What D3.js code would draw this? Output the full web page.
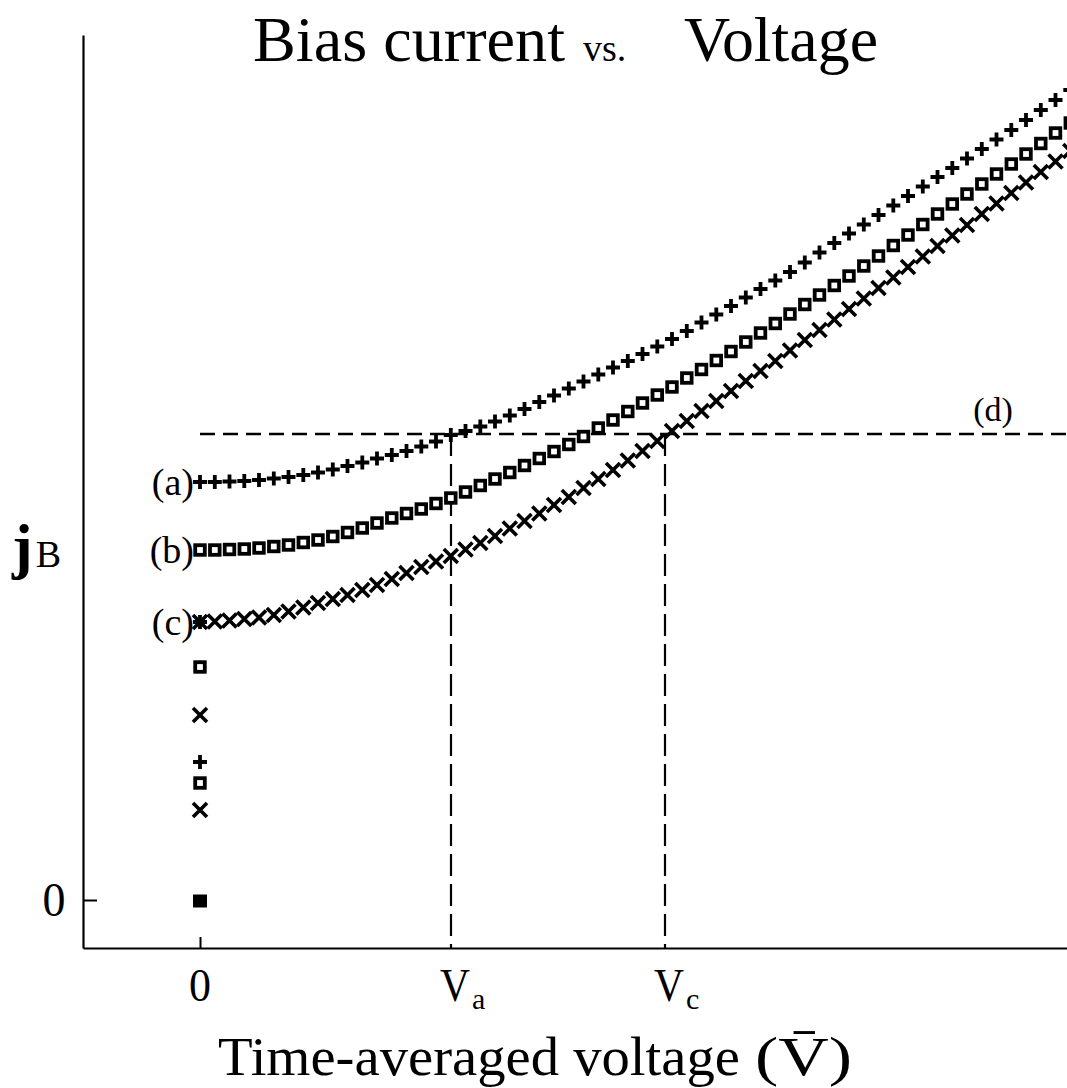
<!DOCTYPE html>
<html><head><meta charset="utf-8">
<script src="https://cdn.jsdelivr.net/npm/d3@7"></script>
<style>
body{margin:0;background:#fff}
svg{display:block;background:#fff}
text{font-family:"Liberation Serif","Times New Roman",serif;fill:#000}
</style>
</head><body>
<svg id="chart" width="1067" height="1088"></svg>
<script>
// ---- data ----
const voltages = [0,0.148,0.295,0.443,0.59,0.738,0.885,1.033,1.18,1.328,1.475,1.623,1.77,1.918,2.065,2.213,2.36,2.508,2.655,2.803,2.95,3.098,3.245,3.393,3.54,3.688,3.835,3.983,4.13,4.278,4.425,4.573,4.72,4.868,5.015,5.163,5.31,5.458,5.605,5.753,5.9,6.048,6.195,6.343,6.49,6.638,6.785,6.933,7.08,7.228,7.375,7.523,7.67,7.818,7.965,8.113,8.26,8.408,8.555,8.703];
const currentA = [4.18,4.18,4.185,4.19,4.20,4.215,4.23,4.25,4.275,4.305,4.34,4.375,4.415,4.45,4.49,4.535,4.585,4.65,4.69,4.735,4.785,4.845,4.91,4.98,5.045,5.115,5.185,5.255,5.325,5.39,5.46,5.535,5.61,5.69,5.775,5.855,5.94,6.025,6.11,6.195,6.28,6.375,6.475,6.57,6.665,6.755,6.85,6.945,7.04,7.135,7.23,7.32,7.415,7.51,7.605,7.70,7.80,7.90,8.00,8.10];
const currentB = [3.50,3.50,3.505,3.51,3.52,3.535,3.55,3.575,3.60,3.635,3.675,3.72,3.77,3.82,3.865,3.91,3.965,4.02,4.08,4.145,4.21,4.275,4.345,4.415,4.485,4.555,4.635,4.72,4.80,4.885,4.97,5.05,5.13,5.22,5.305,5.395,5.485,5.58,5.67,5.765,5.86,5.955,6.05,6.145,6.24,6.34,6.44,6.545,6.65,6.755,6.86,6.96,7.06,7.16,7.26,7.36,7.46,7.565,7.67,7.77];
const currentC = [2.78,2.785,2.795,2.81,2.825,2.85,2.885,2.925,2.97,3.01,3.05,3.10,3.15,3.21,3.27,3.33,3.385,3.44,3.505,3.57,3.64,3.715,3.79,3.865,3.95,4.03,4.12,4.21,4.30,4.395,4.49,4.59,4.69,4.79,4.89,4.99,5.09,5.19,5.29,5.39,5.495,5.60,5.70,5.805,5.91,6.015,6.12,6.225,6.33,6.435,6.54,6.645,6.75,6.86,6.965,7.07,7.175,7.28,7.385,7.49];
// points at zero voltage
const zeroPlus = [2.78, 1.38];
const zeroSquare = [2.33, 1.17];
const zeroCross = [1.85, 0.90];
const zeroFilled = [0];
const seriesLabels = ["(a)", "(b)", "(c)"];
const levelD = 4.66, levelDLabel = "(d)";
const Va = 2.51, Vc = 4.65;
const xTickValues = [0, Va, Vc];
const xTickMain = ["0", "V", "V"];
const xTickSub = ["", "a", "c"];
const yTickValues = [0];
const yTickLabels = ["0"];

// ---- drawing ----
const svg = d3.select("#chart");
const x = d3.scaleLinear().domain([-1.17, 8.67]).range([83, 1067]);
const y = d3.scaleLinear().domain([-0.48, 8.65]).range([948, 35]);

// title
svg.append("text").attr("x",253).attr("y",61).attr("font-size",64)
  .attr("textLength",312).attr("lengthAdjust","spacingAndGlyphs").text("Bias current");
svg.append("text").attr("x",583).attr("y",61).attr("font-size",38).text("vs.");
svg.append("text").attr("x",684).attr("y",61).attr("font-size",64)
  .attr("textLength",194).attr("lengthAdjust","spacingAndGlyphs").text("Voltage");

// axes
const xAxis = d3.axisBottom(x).tickValues([0]).tickSizeInner(-11).tickSizeOuter(0).tickFormat("");
const gx = svg.append("g").attr("transform",`translate(0,${y(-0.48)})`).call(xAxis);
const yAxis = d3.axisLeft(y).tickValues(yTickValues).tickSizeInner(-14).tickSizeOuter(0).tickFormat("");
const gy = svg.append("g").attr("transform",`translate(${x(-1.17)},0)`).call(yAxis);
[gx, gy].forEach(g => {
  g.selectAll("path.domain").attr("stroke","#000").attr("stroke-width",2.2);
  g.selectAll(".tick line").attr("stroke","#000").attr("stroke-width",2);
});

// tick labels
xTickValues.forEach((v,i) => {
  if (xTickSub[i]) {
    svg.append("text").attr("x", x(v) - 11).attr("y",1001).attr("font-size",47)
      .attr("textLength",30).attr("lengthAdjust","spacingAndGlyphs").text(xTickMain[i]);
    svg.append("text").attr("x", x(v) + 21).attr("y",1009).attr("font-size",30)
      .text(xTickSub[i]);
  } else {
    svg.append("text").attr("x", x(v)).attr("y",1001).attr("font-size",47)
      .attr("text-anchor","middle").attr("textLength",22)
      .attr("lengthAdjust","spacingAndGlyphs").text(xTickMain[i]);
  }
});
yTickValues.forEach((v,i) => {
  svg.append("text").attr("x",54).attr("y",y(v)+16).attr("font-size",48)
    .attr("text-anchor","middle").attr("textLength",23)
    .attr("lengthAdjust","spacingAndGlyphs").text(yTickLabels[i]);
});

// axis titles
svg.append("text").attr("x",218).attr("y",1075).attr("font-size",54)
  .attr("textLength",522).attr("lengthAdjust","spacingAndGlyphs").text("Time-averaged voltage");
svg.append("text").attr("x",755).attr("y",1075).attr("font-size",54)
  .attr("textLength",97).attr("lengthAdjust","spacingAndGlyphs").text("(V\u0304)");
const yl = svg.append("text").attr("x",12).attr("y",567);
yl.append("tspan").attr("font-size",62).attr("font-weight","bold").text("j");
yl.append("tspan").attr("font-size",38).attr("dx",3).text("B");

// dashed reference lines
svg.append("line").attr("x1",x(0)).attr("x2",1067).attr("y1",y(levelD)).attr("y2",y(levelD))
  .attr("stroke","#000").attr("stroke-width",2.6).attr("stroke-dasharray","15,8");
[Va, Vc].forEach(v => {
  svg.append("line").attr("x1",x(v)).attr("x2",x(v)).attr("y1",y(levelD)).attr("y2",y(-0.48))
    .attr("stroke","#000").attr("stroke-width",2.2).attr("stroke-dasharray","22,8");
});
svg.append("text").attr("x",993).attr("y",y(levelD)-25).attr("font-size",34)
  .attr("text-anchor","middle").attr("dominant-baseline","central").text(levelDLabel);

// markers
const plusPath = "M-7,0H7M0,-7V7";
const crossPath = "M-7,-7L7,7M-7,7L7,-7";
svg.append("defs").append("clipPath").attr("id","clp")
  .append("rect").attr("x",0).attr("y",0).attr("width",1067).attr("height",1088);
const marks = svg.append("g").attr("clip-path","url(#clp)");

function drawPath(data, vs, path, sw){
  marks.append("g").selectAll("path").data(data).join("path")
    .attr("transform",(d,i)=>`translate(${x(vs[i])},${y(d)})`)
    .attr("d",path).attr("fill","none").attr("stroke","#000").attr("stroke-width",sw);
}
function drawSquares(data, vs){
  marks.append("g").selectAll("rect").data(data).join("rect")
    .attr("x",(d,i)=>x(vs[i])-4.8).attr("y",d=>y(d)-4.8).attr("width",9.6).attr("height",9.6)
    .attr("fill","#fff").attr("stroke","#000").attr("stroke-width",3.8);
}
drawPath(currentA, voltages, plusPath, 3.8);
drawSquares(currentB, voltages);
drawPath(currentC, voltages, crossPath, 3.6);
drawPath(zeroPlus, zeroPlus.map(()=>0), plusPath, 3.8);
drawSquares(zeroSquare, zeroSquare.map(()=>0));
drawPath(zeroCross, zeroCross.map(()=>0), crossPath, 3.6);
marks.append("g").selectAll("rect").data(zeroFilled).join("rect")
  .attr("x",x(0)-7).attr("y",d=>y(d)-5.5).attr("width",14).attr("height",13).attr("fill","#000");

// series labels
[currentA[0], currentB[0], currentC[0]].forEach((v,i) => {
  svg.append("text").attr("x",x(0)-6).attr("y",y(v)).attr("font-size",38)
    .attr("text-anchor","end").attr("dominant-baseline","central").text(seriesLabels[i]);
});
</script>
</body></html>
